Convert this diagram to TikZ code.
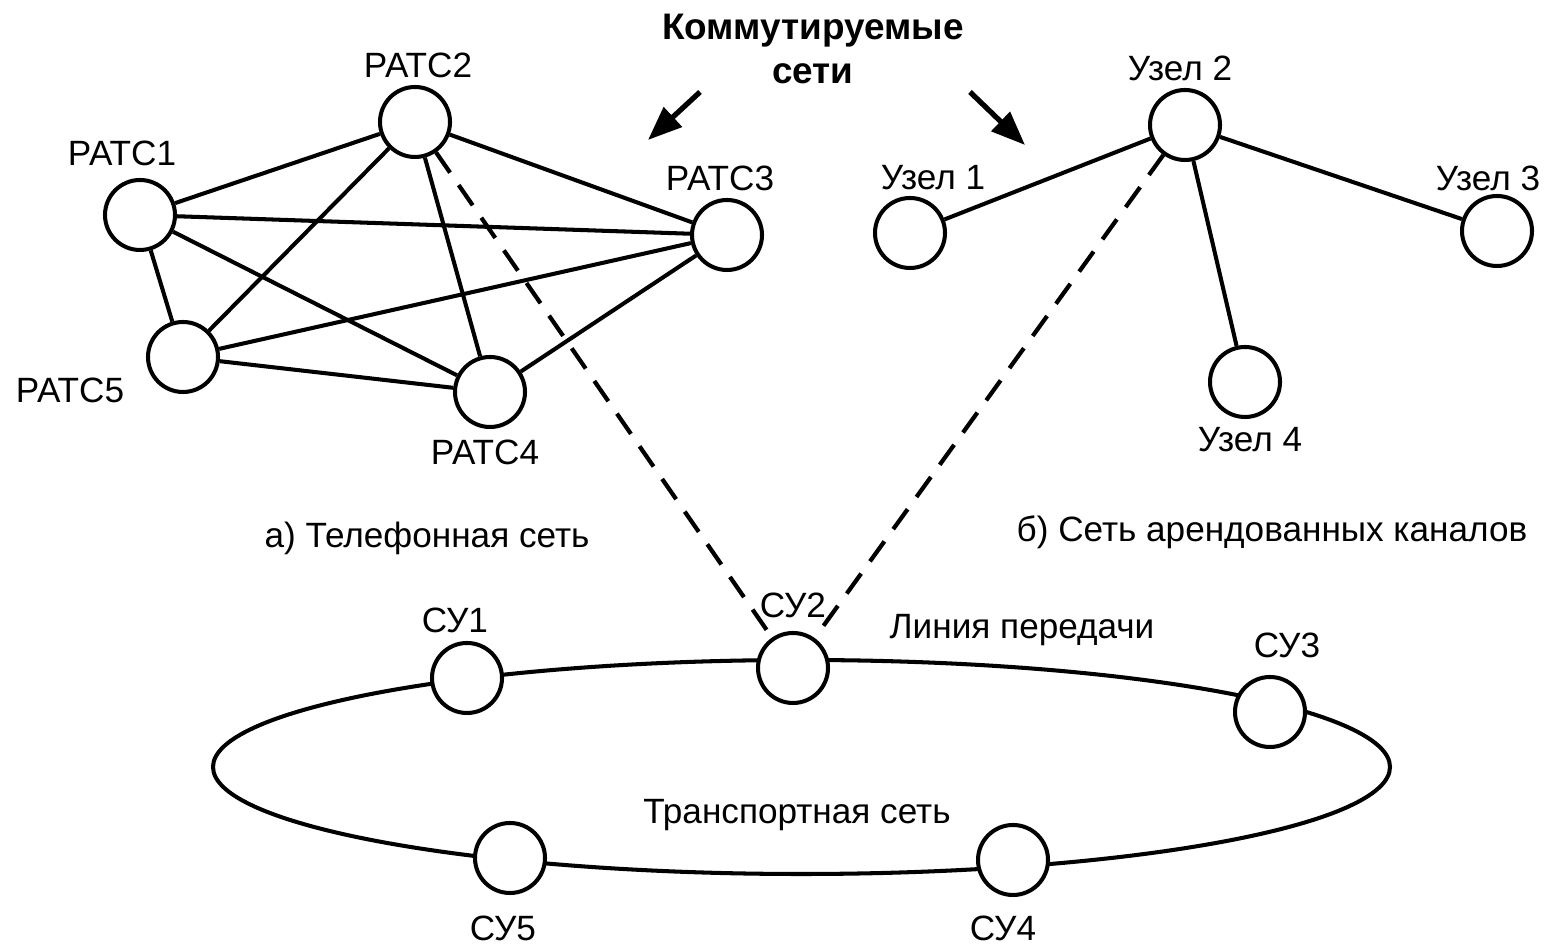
\documentclass[tikz,border=0pt]{standalone}
\usepackage{fontspec}
\setmainfont{Liberation Sans}
\usetikzlibrary{arrows.meta}

\tikzset{
  stn/.style={circle,draw,fill=white,line width=1.15pt,minimum size=0.70cm,inner sep=0pt},
  lnk/.style={line width=1.15pt},
  dlnk/.style={line width=1.2pt,dash pattern=on 7pt off 4.3pt},
  ptr/.style={line width=1.5pt,-{Triangle[length=0.34cm,width=0.26cm]}},
  lbl/.style={inner sep=0pt,font=\fontsize{10}{12}\selectfont},
}

\begin{document}
\begin{tikzpicture}
\useasboundingbox (0,0) rectangle (15.5,9.47);

% transport ring
\coordinate (c) at (8.015,1.80);
\draw[lnk] (c) ellipse (5.885 and 1.07);

% telephone network
\node[stn] (r1) at (1.40,7.32) {};
\node[stn] (r2) at (4.15,8.25) {};
\node[stn] (r3) at (7.27,7.12) {};
\node[stn] (r4) at (4.90,5.55) {};
\node[stn] (r5) at (1.83,5.90) {};

\foreach \a/\b in {r1/r2,r1/r3,r1/r4,r1/r5,r2/r3,r2/r4,r2/r5,r3/r4,r3/r5,r4/r5}
    \draw[lnk] (\a) -- (\b);

% leased lines
\node[stn] (u1) at (9.10,7.14) {};
\node[stn] (u2) at (11.85,8.22) {};
\node[stn] (u3) at (14.97,7.16) {};
\node[stn] (u4) at (12.45,5.65) {};

\foreach \b in {u1,u3,u4}
    \draw[lnk] (u2) -- (\b);

% switching units
\node[stn] (s1) at (4.67,2.69) {};
\node[stn] (s2) at (7.93,2.79) {};
\node[stn] (s3) at (12.70,2.35) {};
\node[stn] (s4) at (10.13,0.87) {};
\node[stn] (s5) at (5.10,0.89) {};

\draw[dlnk] (r2) -- (s2);
\draw[dlnk] (u2) -- (s2);

% heading
\node[lbl,font=\fontsize{10.5}{12.3}\selectfont\bfseries,align=center] (head) at (8.13,8.98) {Коммутируемые\\сети};
\coordinate (pl0) at (7.00,8.55);
\coordinate (pl1) at (6.48,8.07);
\coordinate (pr0) at (9.70,8.55);
\coordinate (pr1) at (10.25,8.02);
\draw[ptr] (pl0) -- (pl1);
\draw[ptr] (pr0) -- (pr1);

% labels
\node[lbl] (lr1) at (1.22,7.94) {РАТС1};
\node[lbl] (lr2) at (4.18,8.82) {РАТС2};
\node[lbl] (lr3) at (7.20,7.69) {РАТС3};
\node[lbl] (lr4) at (4.85,4.95) {РАТС4};
\node[lbl] (lr5) at (0.70,5.57) {РАТС5};

\node[lbl] (lu1) at (9.33,7.69) {Узел 1};
\node[lbl] (lu2) at (11.80,8.79) {Узел 2};
\node[lbl] (lu3) at (14.88,7.69) {Узел 3};
\node[lbl] (lu4) at (12.50,5.07) {Узел 4};

\node[lbl] (capa) at (4.27,4.09) {а) Телефонная сеть};
\node[lbl] (capb) at (12.72,4.15) {б) Сеть арендованных каналов};

\node[lbl] (ls1) at (4.55,3.27) {СУ1};
\node[lbl] (ls2) at (7.93,3.42) {СУ2};
\node[lbl] (ls3) at (12.87,3.02) {СУ3};
\node[lbl] (ls4) at (10.03,0.19) {СУ4};
\node[lbl] (ls5) at (5.03,0.19) {СУ5};
\node[lbl] (line) at (10.22,3.17) {Линия передачи};
\node[lbl] (tnet) at (7.97,1.32) {Транспортная сеть};

\end{tikzpicture}
\end{document}
